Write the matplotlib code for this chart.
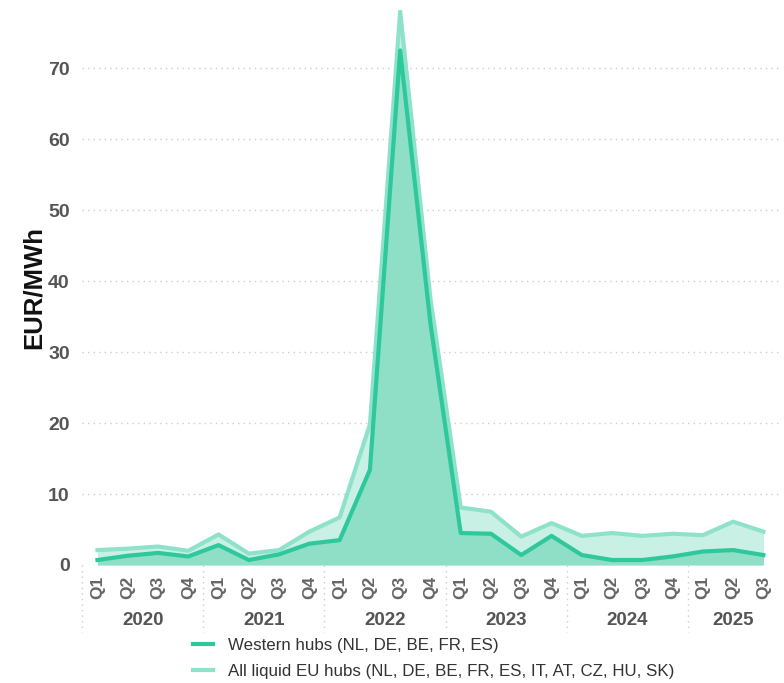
import matplotlib.pyplot as plt
from matplotlib.lines import Line2D

# Quarterly values, EUR/MWh, Q1 2020 .. Q3 2025
quarters = ["Q1", "Q2", "Q3", "Q4"] * 5 + ["Q1", "Q2", "Q3"]
years = ["2020", "2021", "2022", "2023", "2024", "2025"]
western = [0.7, 1.3, 1.7, 1.2, 2.8, 0.7, 1.5, 3.0, 3.5, 13.4, 72.5, 34.0,
           4.5, 4.4, 1.4, 4.1, 1.4, 0.7, 0.7, 1.2, 1.9, 2.1, 1.4]
all_liquid = [2.1, 2.3, 2.6, 2.0, 4.3, 1.6, 2.1, 4.7, 6.7, 19.8, 78.0, 37.5,
              8.1, 7.5, 4.0, 5.9, 4.1, 4.5, 4.1, 4.4, 4.2, 6.1, 4.7]
labels = ["Western hubs (NL, DE, BE, FR, ES)",
          "All liquid EU hubs (NL, DE, BE, FR, ES, IT, AT, CZ, HU, SK)"]

dark = "#2fc89c"
light = "#8fe2ca"

plt.rcParams['font.family'] = ['Liberation Sans', 'DejaVu Sans']

fig = plt.figure(figsize=(7.84, 6.83), dpi=100)
ax = fig.add_axes([0.105, 0.1728, 0.89, 0.8126])

x = list(range(len(western)))
ax.fill_between(x, 0, all_liquid, color="#c8f0e4", lw=0)
ax.fill_between(x, 0, western, color="#8fdfc7", lw=0)
ax.plot(x, all_liquid, color=light, lw=3)
ax.plot(x, western, color=dark, lw=3)

ax.set_xlim(-0.5, 22.55)
ax.set_ylim(0, 78.2)
ax.set_yticks(range(0, 80, 10))
ax.tick_params(axis='y', length=0, pad=9, labelsize=14, labelcolor="#555555")
for t in ax.get_yticklabels():
    t.set_fontweight("bold")
ax.grid(axis='y', color="#cccccc", linestyle=(0, (1, 3)), lw=1)
ax.set_axisbelow(True)
for s in ax.spines.values():
    s.set_visible(False)

ax.set_xticks(x)
ax.set_xticklabels(quarters, rotation=90, fontsize=12.5, fontweight="bold", color="#666666")
ax.tick_params(axis='x', length=0, pad=8)

# year labels and dotted separators under the axis
for i, yr in enumerate(years):
    start = i * 4
    end = min(start + 3, len(x) - 1)
    ax.text((start + end) / 2, -7.8, yr, ha="center", va="center", fontsize=13.5,
            fontweight="bold", color="#555555", clip_on=False)
for sep in [-0.5, 3.5, 7.5, 11.5, 15.5, 19.5]:
    ax.plot([sep, sep], [0, -9.5], color="#cccccc", linestyle=(0, (1, 3)), lw=1, clip_on=False)

ax.set_ylabel("EUR/MWh", fontsize=18.5, fontweight="bold", color="#111111", labelpad=2)

handles = [Line2D([], [], color=dark, lw=3), Line2D([], [], color=light, lw=3)]
fig.legend(handles, labels, loc="upper left", bbox_to_anchor=(0.246, 0.066), frameon=False,
           fontsize=12.2, handlelength=1.2, handletextpad=0.9, labelspacing=0.65,
           labelcolor="#333333", borderaxespad=0, borderpad=0)

fig.savefig("out.png", dpi=100)
